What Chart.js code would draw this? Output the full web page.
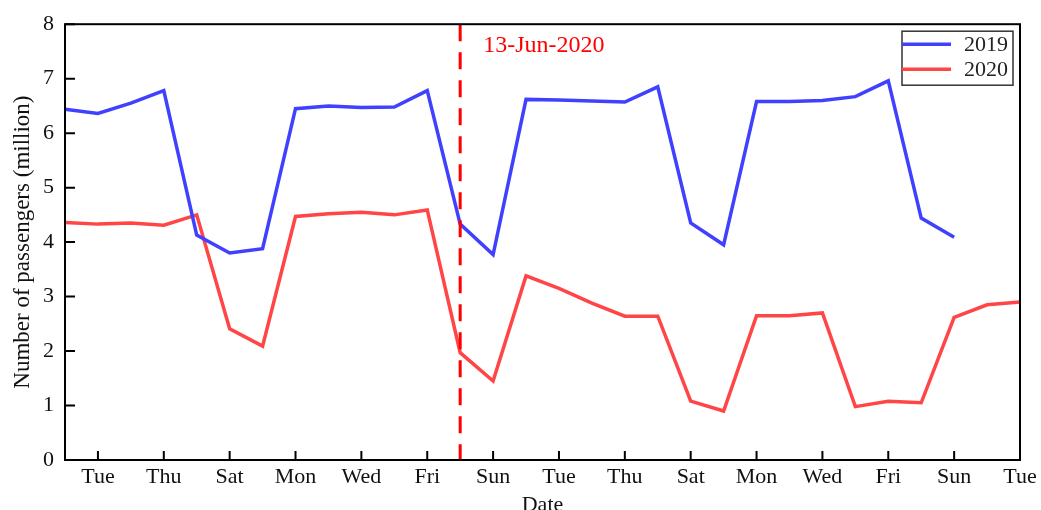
<!DOCTYPE html>
<html>
<head>
<meta charset="utf-8">
<script src="https://cdn.jsdelivr.net/npm/chart.js@4.4.1/dist/chart.umd.min.js"></script>
<style>
  html, body { margin: 0; padding: 0; background: #fff; }
  #wrap { width: 1041px; height: 510px; }
</style>
</head>
<body>
<div id="wrap"><canvas id="paxChart"></canvas></div>
<script>
/* ---------- data ---------- */
const days = ['Mon', 'Tue', 'Wed', 'Thu', 'Fri', 'Sat', 'Sun',
              'Mon', 'Tue', 'Wed', 'Thu', 'Fri', 'Sat', 'Sun',
              'Mon', 'Tue', 'Wed', 'Thu', 'Fri', 'Sat', 'Sun',
              'Mon', 'Tue', 'Wed', 'Thu', 'Fri', 'Sat', 'Sun',
              'Mon', 'Tue'];
const pax2019 = [6.44, 6.36, 6.55, 6.78, 4.13, 3.80, 3.88,
                 6.45, 6.50, 6.47, 6.48, 6.78, 4.33, 3.77,
                 6.62, 6.61, 6.59, 6.57, 6.85, 4.35, 3.95,
                 6.58, 6.58, 6.60, 6.67, 6.96, 4.44, 4.09];
const pax2020 = [4.36, 4.33, 4.35, 4.31, 4.50, 2.41, 2.09,
                 4.47, 4.52, 4.55, 4.50, 4.59, 1.97, 1.45,
                 3.38, 3.15, 2.88, 2.64, 2.64, 1.08, 0.90,
                 2.65, 2.65, 2.70, 0.98, 1.08, 1.05, 2.62,
                 2.85, 2.90];
const yTicks = [0, 1, 2, 3, 4, 5, 6, 7, 8];
const markIndex = 12;            // Saturday 13 June 2020
const markLabel = '13-Jun-2020';

const FONT = "'Liberation Serif', 'Times New Roman', serif";

/* ---------- frame, inward ticks, marker, legend ---------- */
const decorations = {
  id: 'decorations',
  afterDatasetsDraw(chart) {
    const { ctx, chartArea: a, scales: { x, y } } = chart;
    ctx.save();

    // dashed June 13 marker
    const mx = x.getPixelForValue(markIndex);
    ctx.strokeStyle = '#ff0000';
    ctx.lineWidth = 3;
    ctx.setLineDash([17, 11]);
    ctx.beginPath();
    ctx.moveTo(mx, a.top);
    ctx.lineTo(mx, a.bottom);
    ctx.stroke();
    ctx.setLineDash([]);

    ctx.fillStyle = '#ff0000';
    ctx.font = '24px ' + FONT;
    ctx.textBaseline = 'middle';
    ctx.fillText(markLabel, mx + 23, a.top + 22);

    // frame
    ctx.strokeStyle = '#000';
    ctx.lineWidth = 2;
    ctx.strokeRect(a.left, a.top, a.right - a.left, a.bottom - a.top);

    // inward tick marks
    ctx.beginPath();
    yTicks.forEach(v => {
      const py = y.getPixelForValue(v);
      ctx.moveTo(a.left, py);
      ctx.lineTo(a.left + 10, py);
    });
    days.forEach((d, i) => {
      if (i % 2 === 1) {
        const px = x.getPixelForValue(i);
        ctx.moveTo(px, a.bottom);
        ctx.lineTo(px, a.bottom - 9);
      }
    });
    ctx.stroke();

    // legend box
    const bw = 111, bh = 54;
    const bx = a.right - 7 - bw, by = a.top + 7;
    ctx.lineWidth = 1.5;
    ctx.strokeStyle = '#333';
    ctx.strokeRect(bx, by, bw, bh);
    ctx.font = '22px ' + FONT;
    chart.data.datasets.forEach((ds, i) => {
      const ly = by + 13 + i * 25;
      ctx.strokeStyle = ds.borderColor;
      ctx.lineWidth = 3.5;
      ctx.beginPath();
      ctx.moveTo(bx, ly);
      ctx.lineTo(bx + 49, ly);
      ctx.stroke();
      ctx.fillStyle = '#222';
      ctx.fillText(ds.label, bx + 62, ly + 1);
    });

    ctx.restore();
  }
};

/* ---------- chart ---------- */
new Chart(document.getElementById('paxChart'), {
  type: 'line',
  data: {
    labels: days,
    datasets: [
      {
        label: '2019',
        data: pax2019,
        borderColor: '#4040ff',
        borderWidth: 3.5,
        pointRadius: 0,
        tension: 0,
        fill: false,
      },
      {
        label: '2020',
        data: pax2020,
        borderColor: '#ff4545',
        borderWidth: 3.5,
        pointRadius: 0,
        tension: 0,
        fill: false,
      },
    ],
  },
  options: {
    responsive: true,
    maintainAspectRatio: false,
    animation: false,
    layout: { padding: { left: 0, right: 21, top: 20, bottom: 0 } },
    plugins: {
      legend: { display: false },
      tooltip: { enabled: false },
    },
    scales: {
      x: {
        type: 'category',
        offset: false,
        grid: { display: false, drawTicks: false },
        border: { display: false },
        ticks: {
          autoSkip: false,
          maxRotation: 0,
          padding: 4,
          color: '#111',
          font: { family: FONT, size: 22 },
          callback: (v, i) => (i % 2 === 1 ? days[i] : ''),
        },
        title: {
          display: true,
          text: 'Date',
          color: '#111',
          font: { family: FONT, size: 22 },
          padding: { top: 0, bottom: -8 },
        },
        afterFit: s => { s.height = 50; },
      },
      y: {
        min: 0,
        max: 8,
        grid: { display: false, drawTicks: false },
        border: { display: false },
        afterBuildTicks: s => { s.ticks = yTicks.map(v => ({ value: v })); },
        ticks: {
          padding: 11,
          color: '#111',
          font: { family: FONT, size: 22 },
        },
        title: {
          display: true,
          text: 'Number of passengers (million)',
          color: '#111',
          font: { family: FONT, size: 23 },
          padding: { top: 9, bottom: 0 },
        },
        afterFit: s => { s.width = 65; },
      },
    },
  },
  plugins: [decorations],
});
</script>
</body>
</html>
